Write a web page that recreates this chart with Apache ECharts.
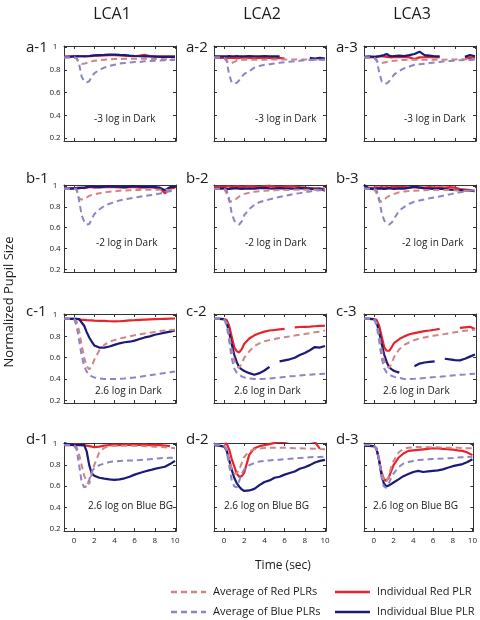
<!DOCTYPE html>
<html><head><meta charset="utf-8">
<script src="https://cdn.jsdelivr.net/npm/echarts@6/dist/echarts.min.js"></script>
<style>html,body{margin:0;padding:0;background:#fff}#c{width:480px;height:620px}</style>
</head><body><div id="c"></div>
<script>
// Time samples (sec)
const T = [-1,-0.5,0,0.25,0.5,0.75,1,1.25,1.5,1.75,2,2.5,3,3.5,4,4.5,5,5.5,6,6.5,7,7.5,8,8.5,9,9.5,10];
const xTicks = [0,2,4,6,8,10];
const yTicks = [0.2,0.4,0.6,0.8,1];
const colTitles = ['LCA1','LCA2','LCA3'];
const rowNotes = ['-3 log in Dark','-2 log in Dark','2.6 log in Dark','2.6 log on Blue BG'];
const seriesNames = ['Individual Red PLR','Individual Blue PLR','Average of Red PLRs','Average of Blue PLRs'];

// Row a
const a1RedInd = [0.915,0.92,0.918,0.92,0.922,0.92,0.918,0.92,0.922,0.92,0.925,0.925,0.928,0.93,0.93,0.928,0.925,0.922,0.92,0.925,0.932,0.922,0.915,0.92,0.918,0.92,0.918];
const a1BlueInd = [0.915,0.915,0.918,0.918,0.92,0.92,0.92,0.92,0.922,0.925,0.928,0.93,0.932,0.935,0.935,0.932,0.93,0.925,0.922,0.92,0.918,0.92,0.918,0.915,0.915,0.915,0.915];
const a1RedAvg = [0.91,0.91,0.91,0.90,0.87,0.855,0.855,0.86,0.87,0.875,0.88,0.885,0.89,0.893,0.895,0.896,0.897,0.897,0.898,0.898,0.898,0.897,0.896,0.895,0.894,0.893,0.892];
const a1BlueAvg = [0.91,0.91,0.91,0.905,0.85,0.74,0.70,0.69,0.70,0.74,0.77,0.80,0.82,0.835,0.845,0.855,0.86,0.865,0.87,0.87,0.875,0.878,0.88,0.882,0.884,0.886,0.888];

const a2RedInd = [0.905,0.908,0.905,0.902,0.905,0.908,0.905,0.902,0.905,0.908,0.91,0.905,0.902,0.905,0.908,0.905,0.902,0.905,0.9,null,null,null,null,null,null,null,null];
const a2BlueInd = [0.92,0.92,0.918,0.92,0.922,0.92,0.92,0.922,0.92,0.918,0.92,0.922,0.92,0.92,0.922,0.92,0.918,0.918,null,null,null,null,null,0.905,0.9,0.905,0.9];
const a2RedAvg = [0.91,0.91,0.905,0.88,0.86,0.86,0.87,0.88,0.885,0.887,0.889,0.89,0.89,0.89,0.89,0.891,0.891,0.892,0.892,0.892,0.892,0.891,0.891,0.89,0.89,0.89,0.89];
const a2BlueAvg = [0.91,0.91,0.905,0.88,0.76,0.69,0.68,0.685,0.71,0.74,0.765,0.79,0.82,0.835,0.845,0.85,0.856,0.862,0.868,0.872,0.876,0.88,0.884,0.886,0.888,0.89,0.89];

const a3RedInd = [0.912,0.91,0.915,0.912,0.918,0.92,0.918,0.915,0.912,0.91,0.915,0.912,0.915,0.91,0.895,0.91,0.912,0.915,0.91,0.912,null,null,null,null,0.905,0.908,0.905];
const a3BlueInd = [0.915,0.918,0.915,0.918,0.92,0.925,0.93,0.94,0.925,0.92,0.922,0.925,0.922,0.93,0.94,0.96,0.93,0.925,0.92,0.918,null,null,null,null,0.915,0.93,0.92];
const a3RedAvg = [0.91,0.91,0.905,0.88,0.86,0.86,0.865,0.87,0.875,0.878,0.88,0.885,0.888,0.89,0.89,0.89,0.89,0.89,0.89,0.89,0.89,0.891,0.892,0.893,0.894,0.895,0.895];
const a3BlueAvg = [0.91,0.91,0.905,0.89,0.78,0.70,0.68,0.68,0.70,0.73,0.76,0.79,0.815,0.83,0.845,0.85,0.855,0.86,0.865,0.87,0.875,0.878,0.88,0.885,0.887,0.888,0.89];

// Row b
const b1RedInd = [0.975,0.978,0.98,0.982,0.985,0.985,0.98,0.985,0.99,0.99,0.985,0.988,0.99,0.992,0.99,0.988,0.985,0.99,0.99,0.985,0.988,0.99,0.985,0.98,0.93,0.975,0.985];
const b1BlueInd = [0.975,0.975,0.978,0.975,0.98,0.982,0.985,0.99,0.993,0.995,0.993,0.99,0.995,0.998,0.995,0.993,0.99,0.995,0.998,0.995,0.99,0.995,0.99,0.985,0.96,0.99,0.995];
const b1RedAvg = [0.975,0.975,0.973,0.965,0.88,0.87,0.875,0.89,0.905,0.915,0.92,0.93,0.94,0.945,0.95,0.955,0.958,0.96,0.962,0.963,0.964,0.965,0.965,0.965,0.964,0.962,0.962];
const b1BlueAvg = [0.975,0.975,0.973,0.97,0.86,0.72,0.66,0.63,0.635,0.68,0.73,0.775,0.81,0.83,0.845,0.862,0.872,0.88,0.888,0.897,0.905,0.912,0.918,0.928,0.94,0.95,0.96];

const b2RedInd = [0.99,0.995,0.99,0.995,0.998,0.99,0.995,1.0,0.995,0.99,0.995,1.0,0.995,0.99,1.0,1.002,0.995,0.99,0.995,1.0,0.998,0.99,0.985,0.98,0.978,0.975,0.975];
const b2BlueInd = [0.975,0.978,0.975,0.97,0.972,0.975,0.978,0.98,0.975,0.972,0.975,0.978,0.975,0.98,0.982,0.978,0.975,0.98,0.975,0.978,0.975,0.98,0.978,0.975,0.97,0.975,0.955];
const b2RedAvg = [0.975,0.975,0.972,0.93,0.86,0.85,0.86,0.88,0.9,0.915,0.925,0.935,0.945,0.95,0.955,0.958,0.96,0.962,0.963,0.963,0.964,0.965,0.965,0.965,0.965,0.965,0.965];
const b2BlueAvg = [0.975,0.975,0.972,0.96,0.88,0.74,0.67,0.64,0.63,0.66,0.72,0.78,0.82,0.845,0.86,0.872,0.885,0.895,0.905,0.915,0.925,0.932,0.94,0.948,0.955,0.96,0.965];

const b3RedInd = [0.985,0.982,0.985,0.988,0.985,0.99,0.985,0.99,0.985,0.99,0.992,0.99,0.99,0.985,0.99,0.988,0.985,0.99,0.985,0.988,0.985,0.99,0.985,0.97,0.965,0.96,0.955];
const b3BlueInd = [1.01,0.975,0.97,0.975,0.978,0.975,0.972,0.975,0.98,0.975,0.972,0.978,0.975,0.985,0.995,0.985,0.978,0.975,0.972,0.975,0.97,0.965,0.962,0.96,0.958,0.955,0.95];
const b3RedAvg = [0.975,0.975,0.972,0.93,0.86,0.85,0.87,0.89,0.905,0.915,0.925,0.94,0.948,0.952,0.955,0.958,0.96,0.962,0.963,0.963,0.962,0.962,0.96,0.958,0.955,0.955,0.955];
const b3BlueAvg = [0.975,0.975,0.972,0.96,0.88,0.74,0.67,0.64,0.63,0.65,0.69,0.765,0.8,0.83,0.85,0.862,0.872,0.882,0.89,0.9,0.91,0.92,0.93,0.94,0.948,0.955,0.96];

// Row c
const c1RedInd = [0.965,0.965,0.965,0.962,0.96,0.955,0.955,0.952,0.95,0.95,0.948,0.945,0.945,0.942,0.94,0.942,0.945,0.95,0.952,0.955,0.958,0.96,0.962,0.963,0.965,0.967,0.968];
const c1BlueInd = [0.965,0.965,0.965,0.964,0.963,0.93,0.9,0.84,0.79,0.75,0.715,0.695,0.695,0.705,0.72,0.735,0.745,0.75,0.76,0.775,0.79,0.8,0.815,0.825,0.835,0.845,0.855];
const c1RedAvg = [0.965,0.965,0.962,0.94,0.85,0.72,0.6,0.52,0.49,0.52,0.58,0.67,0.72,0.75,0.765,0.78,0.79,0.8,0.81,0.82,0.828,0.835,0.842,0.85,0.855,0.86,0.862];
const c1BlueAvg = [0.965,0.965,0.962,0.9,0.76,0.62,0.52,0.47,0.44,0.425,0.415,0.405,0.40,0.40,0.40,0.402,0.405,0.41,0.415,0.42,0.428,0.435,0.442,0.45,0.457,0.463,0.47];

const c2RedInd = [0.965,0.965,0.962,0.955,0.9,0.8,0.7,0.66,0.65,0.68,0.73,0.78,0.81,0.83,0.845,0.855,0.86,0.865,0.87,null,0.885,0.888,0.89,0.892,0.895,0.898,0.9];
const c2BlueInd = [0.965,0.965,0.962,0.93,0.84,0.73,0.63,0.56,0.51,0.49,0.475,0.455,0.44,0.455,0.48,0.515,null,0.565,0.575,0.585,0.6,0.625,0.645,0.67,0.7,0.695,0.71];
const c2RedAvg = [0.965,0.965,0.962,0.93,0.82,0.68,0.58,0.52,0.505,0.55,0.6,0.66,0.71,0.735,0.755,0.765,0.775,0.785,0.792,0.8,0.808,0.815,0.822,0.83,0.838,0.845,0.855];
const c2BlueAvg = [0.965,0.965,0.962,0.9,0.76,0.6,0.5,0.46,0.44,0.425,0.415,0.405,0.40,0.40,0.402,0.405,0.41,0.415,0.42,0.425,0.428,0.432,0.437,0.44,0.445,0.448,0.45];

const c3RedInd = [0.965,0.965,0.962,0.955,0.9,0.8,0.7,0.665,0.665,0.7,0.74,0.775,0.8,0.82,0.83,0.84,0.85,0.855,0.862,0.87,null,null,null,0.88,0.885,0.89,0.87];
const c3BlueInd = [0.965,0.965,0.962,0.93,0.84,0.73,0.63,0.56,0.51,0.49,0.475,0.46,null,null,0.52,0.545,0.555,0.56,0.565,null,0.59,0.585,0.578,0.575,0.59,0.61,0.63];
const c3RedAvg = [0.965,0.965,0.962,0.93,0.82,0.68,0.57,0.52,0.505,0.55,0.61,0.68,0.72,0.745,0.765,0.78,0.79,0.8,0.808,0.815,0.822,0.83,0.838,0.845,0.852,0.858,0.865];
const c3BlueAvg = [0.965,0.965,0.962,0.9,0.76,0.6,0.5,0.46,0.44,0.43,0.42,0.41,0.40,0.40,0.402,0.405,0.41,0.415,0.418,0.422,0.425,0.43,0.435,0.44,0.443,0.447,0.45];

// Row d
const d1RedInd = [0.99,0.99,0.995,0.995,0.995,0.99,0.99,0.985,0.98,0.975,0.97,0.975,0.985,0.99,0.992,0.99,0.993,0.995,0.99,0.993,0.995,0.99,0.993,0.99,0.985,0.98,null];
const d1BlueInd = [1.01,0.995,0.99,0.99,0.99,0.99,0.99,0.93,0.8,0.72,0.7,0.68,0.672,0.665,0.66,0.665,0.675,0.69,0.71,0.725,0.74,0.752,0.765,0.775,0.785,0.81,0.84];
const d1RedAvg = [0.99,0.99,0.985,0.97,0.9,0.8,0.7,0.64,0.62,0.72,0.8,0.92,0.965,0.98,0.985,0.985,0.985,0.985,0.985,0.982,0.98,0.978,0.975,0.972,0.97,0.965,0.96];
const d1BlueAvg = [0.99,0.99,0.985,0.95,0.8,0.64,0.59,0.6,0.66,0.74,0.77,0.8,0.815,0.83,0.835,0.84,0.843,0.845,0.845,0.848,0.852,0.856,0.86,0.865,0.868,0.87,0.872];

const d2RedInd = [null,null,1.0,1.005,0.95,0.86,0.79,0.72,0.69,0.695,0.73,0.9,0.96,0.98,0.99,1.0,1.01,1.02,1.02,1.03,1.03,1.04,1.05,1.03,1.02,0.955,null];
const d2BlueInd = [0.99,0.985,0.975,0.94,0.85,0.76,0.68,0.63,0.595,0.57,0.555,0.56,0.575,0.61,0.64,0.655,0.68,0.69,0.71,0.725,0.74,0.765,0.78,0.8,0.825,0.84,0.85];
const d2RedAvg = [0.995,0.995,0.99,0.95,0.85,0.76,0.72,0.72,0.76,0.82,0.88,0.93,0.95,0.958,0.962,0.965,0.965,0.965,0.965,0.962,0.96,0.96,0.958,0.958,0.955,0.952,0.95];
const d2BlueAvg = [0.995,0.99,0.985,0.93,0.8,0.66,0.6,0.59,0.65,0.72,0.76,0.8,0.82,0.835,0.84,0.845,0.85,0.852,0.856,0.86,0.865,0.868,0.872,0.875,0.877,0.878,0.88];

const d3RedInd = [0.985,0.983,0.98,0.96,0.87,0.74,0.67,0.65,0.68,0.74,0.8,0.87,0.91,0.935,0.94,0.945,0.95,0.955,0.96,0.958,0.955,0.952,0.948,0.94,0.935,0.92,0.895];
const d3BlueInd = [0.985,0.983,0.98,0.96,0.86,0.72,0.63,0.6,0.605,0.62,0.635,0.665,0.695,0.715,0.735,0.745,0.735,0.74,0.745,0.75,0.76,0.775,0.79,0.8,0.81,0.83,0.855];
const d3RedAvg = [0.99,0.99,0.985,0.96,0.87,0.74,0.66,0.64,0.69,0.78,0.84,0.92,0.955,0.965,0.97,0.972,0.972,0.97,0.97,0.97,0.968,0.966,0.965,0.965,0.962,0.96,0.96];
const d3BlueAvg = [0.99,0.99,0.985,0.96,0.86,0.7,0.6,0.585,0.62,0.68,0.72,0.78,0.815,0.83,0.84,0.848,0.852,0.855,0.858,0.86,0.862,0.865,0.868,0.872,0.875,0.878,0.88];

const panelData = [
  [[a1RedInd,a1BlueInd,a1RedAvg,a1BlueAvg],[a2RedInd,a2BlueInd,a2RedAvg,a2BlueAvg],[a3RedInd,a3BlueInd,a3RedAvg,a3BlueAvg]],
  [[b1RedInd,b1BlueInd,b1RedAvg,b1BlueAvg],[b2RedInd,b2BlueInd,b2RedAvg,b2BlueAvg],[b3RedInd,b3BlueInd,b3RedAvg,b3BlueAvg]],
  [[c1RedInd,c1BlueInd,c1RedAvg,c1BlueAvg],[c2RedInd,c2BlueInd,c2RedAvg,c2BlueAvg],[c3RedInd,c3BlueInd,c3RedAvg,c3BlueAvg]],
  [[d1RedInd,d1BlueInd,d1RedAvg,d1BlueAvg],[d2RedInd,d2BlueInd,d2RedAvg,d2BlueAvg],[d3RedInd,d3BlueInd,d3RedAvg,d3BlueAvg]]
];
const rowLetters = ['a','b','c','d'];

// ---- layout & style ----
const FONT = '"Open Sans", "Noto Sans", sans-serif';
const ROW_TOP = [46,185,314,443];
const ROW_H = [95,87,89,88];
const COL_LEFT = [64,214,364];
const COL_W = 112;
const LABEL_X = [26,186,336];
const LABEL_Y = [47.5,178.7,311.4,439.7];
const NOTE_Y = [119,243,391,506];
const NOTE_X = [[94,255,404],[96,245,402],[95,234,383],[88,224,373]];
const styles = [
  {color:'#e8232a', width:2.2, type:'solid'},
  {color:'#1b1a78', width:2.2, type:'solid'},
  {color:'#cf8585', width:2, type:[6,4]},
  {color:'#8985c6', width:2, type:[6,4]}
];
const AX = '#333';

const grids=[], xAxes=[], yAxes=[], series=[], graphics=[];
for (let r=0;r<4;r++){
  for (let c=0;c<3;c++){
    const g = grids.length;
    grids.push({left:COL_LEFT[c], top:ROW_TOP[r], width:COL_W, height:ROW_H[r], show:false});
    const common = {type:'value', gridIndex:g, splitLine:{show:false},
      axisLine:{show:true, onZero:false, lineStyle:{color:AX, width:1}}};
    xAxes.push(Object.assign({}, common, {position:'bottom', min:-1, max:10.1,
      axisTick:{show:true, inside:true, length:3, customValues:xTicks, lineStyle:{color:AX}},
      axisLabel:{show:r===3, customValues:xTicks, fontSize:8, margin:6, color:'#222', fontFamily:FONT}}));
    xAxes.push(Object.assign({}, common, {position:'top', min:-1, max:10.1,
      axisTick:{show:true, inside:true, length:3, customValues:xTicks, lineStyle:{color:AX}},
      axisLabel:{show:false}}));
    yAxes.push(Object.assign({}, common, {position:'left', min:0.175, max:1.01,
      axisTick:{show:true, inside:true, length:3, customValues:yTicks, lineStyle:{color:AX}},
      axisLabel:{show:c===0, customValues:yTicks, fontSize:8, margin:9, align:'center', color:'#222', fontFamily:FONT}}));
    yAxes.push(Object.assign({}, common, {position:'right', min:0.175, max:1.01,
      axisTick:{show:true, inside:true, length:3, customValues:yTicks, lineStyle:{color:AX}},
      axisLabel:{show:false}}));
    panelData[r][c].forEach((vals,k)=>{
      series.push({type:'line', name:seriesNames[k], xAxisIndex:g*2, yAxisIndex:g*2,
        data:T.map((t,i)=>[t, vals[i]===null ? '-' : vals[i]]),
        showSymbol:false, symbol:'none', connectNulls:false, clip:true, silent:true,
        lineStyle:styles[k], itemStyle:{color:styles[k].color}, z:2+k});
    });
    graphics.push({type:'text', x:LABEL_X[c], y:LABEL_Y[r],
      style:{text:rowLetters[r]+'-'+(c+1), font:'15px '+FONT, fill:'#1a1a1a', verticalAlign:'middle'}});
    graphics.push({type:'text', x:NOTE_X[r][c], y:NOTE_Y[r],
      style:{text:rowNotes[r], font:'10px '+FONT, fill:'#1a1a1a', verticalAlign:'middle'}});
  }
}
colTitles.forEach((t,c)=>{
  graphics.push({type:'text', x:COL_LEFT[c]+COL_W/2-8, y:14,
    style:{text:t, font:'16px '+FONT, fill:'#1a1a1a', align:'center', verticalAlign:'middle'}});
});
graphics.push({type:'text', x:9, y:302, rotation:Math.PI/2,
  style:{text:'Normalized Pupil Size', font:'13px '+FONT, fill:'#1a1a1a', align:'center', verticalAlign:'middle'}});
graphics.push({type:'text', x:255, y:566,
  style:{text:'Time (sec)', font:'12px '+FONT, fill:'#1a1a1a', verticalAlign:'middle'}});

// legend (key drawn as graphic elements)
const legendItems = [
  {k:2, x:171, y:592}, {k:3, x:171, y:612},
  {k:0, x:335, y:592}, {k:1, x:335, y:612}
];
legendItems.forEach(it=>{
  const s = styles[it.k];
  graphics.push({type:'line', shape:{x1:it.x, y1:it.y, x2:it.x+35, y2:it.y},
    style:{stroke:s.color, lineWidth:2.5, lineDash: Array.isArray(s.type)? s.type : null}});
  graphics.push({type:'text', x:it.x+42, y:it.y,
    style:{text:seriesNames[it.k], font:'11px '+FONT, fill:'#1a1a1a', verticalAlign:'middle'}});
});

const chart = echarts.init(document.getElementById('c'), null, {renderer:'canvas'});
chart.setOption({
  animation:false,
  backgroundColor:'#fff',
  grid:grids, xAxis:xAxes, yAxis:yAxes, series:series,
  graphic:graphics
});
</script></body></html>
